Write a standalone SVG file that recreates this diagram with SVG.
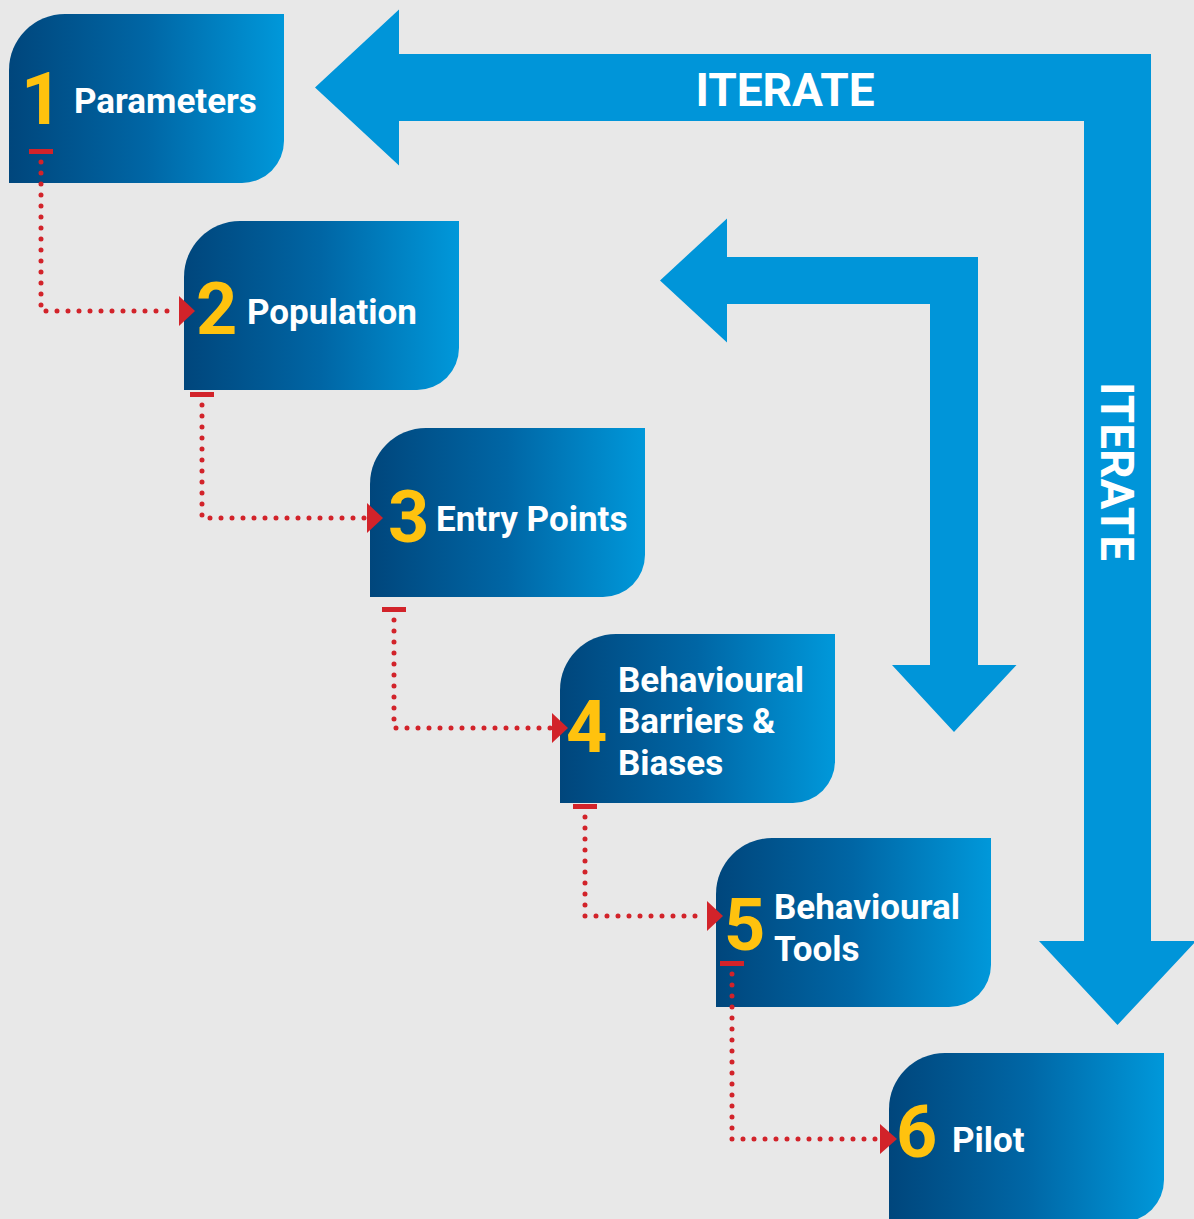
<svg xmlns="http://www.w3.org/2000/svg" width="1194" height="1219" viewBox="0 0 1194 1219">
  <defs>
    <linearGradient id="nodeGrad" x1="0" y1="0" x2="1" y2="0">
      <stop offset="0" stop-color="#00467c"/>
      <stop offset="0.5" stop-color="#0066a5"/>
      <stop offset="1" stop-color="#0098da"/>
    </linearGradient>
    <path id="nodeShape" d="M0,169 V56 A56,56 0 0 1 56,0 H275 V127 A42,42 0 0 1 233,169 Z"/>
    <style>
      .node { fill: url(#nodeGrad); }
      .num { font-family: Roboto, "Liberation Sans", sans-serif; font-weight: bold; font-size: 72px; fill: #ffc20e; }
      .lbl { font-family: Roboto, "Liberation Sans", sans-serif; font-weight: bold; font-size: 35px; fill: #ffffff; }
      .iter { font-family: Roboto, "Liberation Sans", sans-serif; font-weight: bold; font-size: 46px; fill: #ffffff; text-anchor: middle; }
      .big { fill: #0095d9; }
      .dots { fill: none; stroke: #d2232a; stroke-width: 5; stroke-linecap: round; stroke-dasharray: 0 11; }
      .bar { fill: #d2232a; }
      .head { fill: #d2232a; }
    </style>
  </defs>
  <rect x="0" y="0" width="1194" height="1219" fill="#e8e8e8"/>

  <g id="iterate-outer">
    <polygon class="big" points="315,87.5 399,9.5 399,54 1151,54 1151,941 1196,941 1117.5,1025 1039,941 1084,941 1084,121 399,121 399,165.5"/>
    <text class="iter" x="785" y="106">ITERATE</text>
    <text class="iter" transform="translate(1101,471.5) rotate(90)" x="0" y="0">ITERATE</text>
  </g>
  <g id="iterate-inner">
    <polygon class="big" points="660,280.5 727,218.5 727,257 978,257 978,665 1016.5,665 954,732 892,665 930,665 930,304 727,304 727,342.5"/>
  </g>

  <g id="node1">
    <use href="#nodeShape" class="node" x="9" y="14"/>
    <text class="num" x="21" y="124">1</text>
    <text class="lbl" x="74" y="113">Parameters</text>
  </g>
  <g id="node2">
    <use href="#nodeShape" class="node" x="184" y="221"/>
    <text class="num" x="196" y="334">2</text>
    <text class="lbl" x="247" y="324">Population</text>
  </g>
  <g id="node3">
    <use href="#nodeShape" class="node" x="370" y="428"/>
    <text class="num" x="388" y="542">3</text>
    <text class="lbl" x="436" y="531">Entry Points</text>
  </g>
  <g id="node4">
    <use href="#nodeShape" class="node" x="560" y="634"/>
    <text class="num" x="566" y="752">4</text>
    <text class="lbl" x="618" y="692">Behavioural</text>
    <text class="lbl" x="618" y="733">Barriers &amp;</text>
    <text class="lbl" x="618" y="775">Biases</text>
  </g>
  <g id="node5">
    <use href="#nodeShape" class="node" x="716" y="838"/>
    <text class="num" x="724" y="950">5</text>
    <text class="lbl" x="774" y="919">Behavioural</text>
    <text class="lbl" x="774" y="961">Tools</text>
  </g>
  <g id="node6">
    <use href="#nodeShape" class="node" x="889" y="1053"/>
    <text class="num" x="896" y="1157">6</text>
    <text class="lbl" x="952" y="1152">Pilot</text>
  </g>

  <g id="connectors">
    <rect class="bar" x="29" y="149" width="24" height="5"/>
    <path class="dots" d="M41,162 V311 H177"/>
    <polygon class="head" points="179,296 195,311 179,326"/>

    <rect class="bar" x="190" y="392" width="24" height="5"/>
    <path class="dots" d="M202,405 V518 H365"/>
    <polygon class="head" points="367,503 383,518 367,533"/>

    <rect class="bar" x="382" y="607" width="24" height="5"/>
    <path class="dots" d="M394,620 V728 H552"/>
    <polygon class="head" points="552,713 568,728 552,743"/>

    <rect class="bar" x="573" y="804" width="24" height="5"/>
    <path class="dots" d="M585,817 V916 H706"/>
    <polygon class="head" points="707,901 723,916 707,931"/>

    <rect class="bar" x="720" y="961" width="24" height="5"/>
    <path class="dots" d="M732,974 V1139 H877"/>
    <polygon class="head" points="880,1124 897,1139 880,1154"/>
  </g>
</svg>
